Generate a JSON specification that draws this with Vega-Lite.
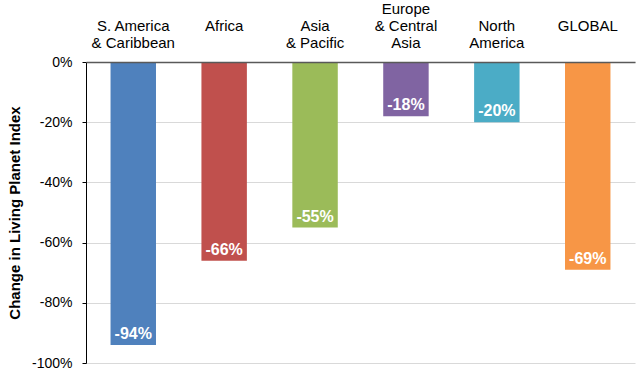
{
  "$schema": "https://vega.github.io/schema/vega-lite/v6.json",
  "width": 549,
  "height": 301,
  "autosize": {"type": "none"},
  "padding": {"left": 86, "top": 62, "right": 4, "bottom": 17},
  "background": "white",
  "data": {
    "values": [
      {"region": "S. America|& Caribbean", "change": -94, "label": "-94%", "color": "#4F81BD"},
      {"region": "Africa", "change": -66, "label": "-66%", "color": "#C0504D"},
      {"region": "Asia|& Pacific", "change": -55, "label": "-55%", "color": "#9BBB59"},
      {"region": "Europe|& Central|Asia", "change": -18, "label": "-18%", "color": "#8064A2"},
      {"region": "North|America", "change": -20, "label": "-20%", "color": "#4BACC6"},
      {"region": "GLOBAL", "change": -69, "label": "-69%", "color": "#F79646"}
    ]
  },
  "config": {
    "view": {"stroke": null},
    "font": "Liberation Sans"
  },
  "encoding": {
    "x": {
      "field": "region",
      "type": "nominal",
      "sort": null,
      "scale": {"paddingInner": 0.5, "paddingOuter": 0.27},
      "axis": {
        "orient": "top",
        "title": null,
        "labelAngle": 0,
        "labelExpr": "split((length(split(datum.label,'|')) == 1 ? '||' : (length(split(datum.label,'|')) == 2 ? '|' : '')) + datum.label, '|')",
        "labelBaseline": "top",
        "labelFontSize": 15,
        "labelColor": "#000000",
        "labelPadding": 61,
        "labelLineHeight": 17,
        "ticks": false,
        "domainColor": "#595959",
        "domainWidth": 1.5,
        "zindex": 2
      }
    }
  },
  "layer": [
    {
      "mark": {"type": "bar"},
      "encoding": {
        "y": {
          "field": "change",
          "type": "quantitative",
          "scale": {"domain": [-100, 0], "nice": false},
          "axis": {
            "title": "Change in Living Planet Index",
            "titleFontSize": 15,
            "titleFontWeight": "bold",
            "titleColor": "#000000",
            "titlePadding": 9,
            "values": [0, -10, -20, -30, -40, -50, -60, -70, -80, -90, -100],
            "labelExpr": "datum.value % 20 == 0 ? datum.value + '%' : ''",
            "labelFontSize": 14,
            "labelColor": "#000000",
            "labelPadding": 10,
            "tickSize": 4,
            "tickColor": "#000000",
            "domainColor": "#000000",
            "gridColor": "#D9D9D9",
            "gridOpacity": {"condition": {"test": "datum.value % 20 == 0", "value": 1}, "value": 0},
            "zindex": 0
          }
        },
        "color": {"field": "color", "type": "nominal", "scale": null, "legend": null}
      }
    },
    {
      "mark": {"type": "text", "baseline": "alphabetic", "dy": -6, "fontSize": 16, "fontWeight": "bold", "color": "white"},
      "encoding": {
        "y": {"field": "change", "type": "quantitative"},
        "text": {"field": "label"}
      }
    }
  ]
}
